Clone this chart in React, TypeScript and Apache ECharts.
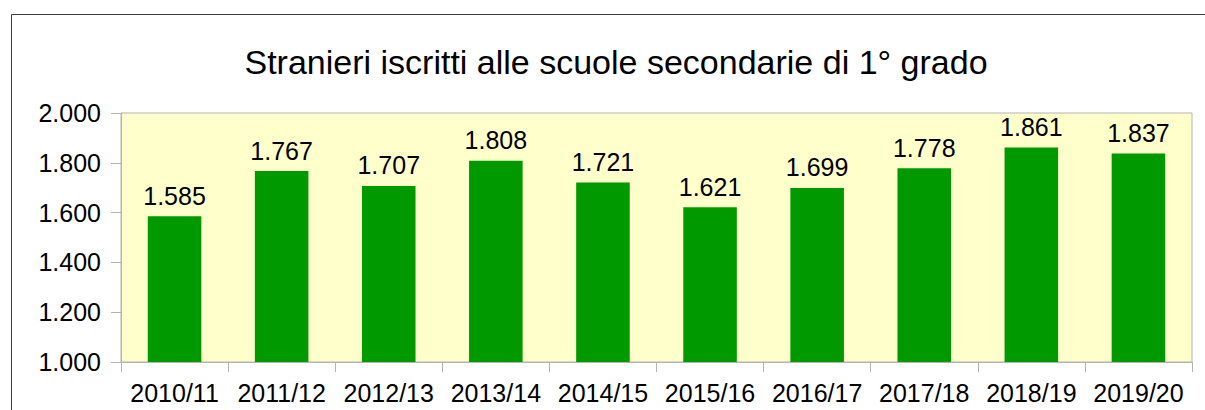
import React, { useEffect, useRef } from "react";
import * as echarts from "echarts";

const titleText = "Stranieri iscritti alle scuole secondarie di 1° grado";
const categories = [
  "2010/11", "2011/12", "2012/13", "2013/14", "2014/15",
  "2015/16", "2016/17", "2017/18", "2018/19", "2019/20",
];
const values = [1585, 1767, 1707, 1808, 1721, 1621, 1699, 1778, 1861, 1837];

const fmt = (v: number) => {
  const s = Math.round(v).toString();
  return s.replace(/\B(?=(\d{3})+(?!\d))/g, ".");
};

const FONT = "'Liberation Sans', Arial, sans-serif";

export default function App() {
  const ref = useRef<HTMLDivElement>(null);
  useEffect(() => {
    if (!ref.current) return;
    const chart = echarts.init(ref.current, null, { renderer: "svg" });
    chart.setOption({
      animation: false,
      backgroundColor: "#ffffff",
      textStyle: { fontFamily: FONT },
      title: {
        text: titleText,
        left: 611,
        textAlign: "center",
        top: 40,
        textStyle: { fontFamily: FONT, fontSize: 34, fontWeight: "normal", color: "#000" },
      },
      graphic: [
        {
          type: "rect",
          shape: { x: 11.5, y: 14.5, width: 1230, height: 420 },
          style: { fill: "none", stroke: "#3c3c3c", lineWidth: 1 },
          silent: true,
        },
      ],
      grid: {
        left: 121,
        right: 13,
        top: 113,
        bottom: 48,
        show: true,
        backgroundColor: "#ffffcc",
        borderColor: "#b3b3b3",
        borderWidth: 1,
      },
      xAxis: {
        type: "category",
        data: categories,
        axisLine: { lineStyle: { color: "#b3b3b3" } },
        axisTick: { show: true, length: 10, lineStyle: { color: "#b3b3b3" } },
        axisLabel: { color: "#000", fontSize: 25, fontFamily: FONT, margin: 18, interval: 0 },
      },
      yAxis: {
        type: "value",
        min: 1000,
        max: 2000,
        interval: 200,
        splitLine: { show: false },
        axisLine: { show: true, lineStyle: { color: "#b3b3b3" } },
        axisTick: { show: true, length: 10, lineStyle: { color: "#b3b3b3" } },
        axisLabel: {
          color: "#000",
          fontSize: 25,
          fontFamily: FONT,
          margin: 20,
          formatter: (v: number) => fmt(v),
        },
      },
      series: [
        {
          type: "bar",
          data: values,
          barWidth: "50%",
          itemStyle: { color: "#009900" },
          label: {
            show: true,
            position: "top",
            distance: 8,
            color: "#000",
            fontSize: 25,
            fontFamily: FONT,
            formatter: (p: any) => fmt(p.value),
          },
        },
      ],
    });
    return () => chart.dispose();
  }, []);
  return (
    <div
      ref={ref}
      style={{ position: "absolute", left: 0, top: 0, width: 1205, height: 410 }}
    />
  );
}
